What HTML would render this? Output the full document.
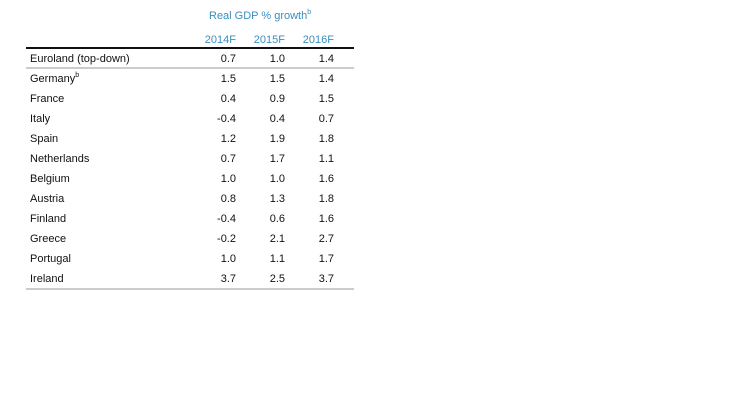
<!DOCTYPE html>
<html><head><style>
body{margin:0;width:741px;height:409px;background:#fff;position:relative;font-family:"Liberation Sans",sans-serif;font-size:11px;color:#111;overflow:hidden}
.t{position:absolute;white-space:nowrap;line-height:13px}
.b{color:#3a8fc0}
.r{text-align:right;width:40px}
.line{position:absolute;left:26px;width:328px}
sup{font-size:7px;vertical-align:5px;line-height:0}
</style></head><body>
<div class="t b" style="left:209px;top:10px">Real GDP % growth<sup>b</sup></div>
<div class="t b r" style="left:196px;top:34px">2014F</div>
<div class="t b r" style="left:245px;top:34px">2015F</div>
<div class="t b r" style="left:294px;top:34px">2016F</div>
<div class="line" style="top:47px;height:2px;background:#111"></div>
<div class="line" style="top:67px;height:2px;background:#ccc"></div>
<div class="line" style="top:288px;height:2px;background:#ccc"></div>
<div id="rows"></div>
<script>
var d=[["Euroland (top-down)","0.7","1.0","1.4"],["Germany<sup>b</sup>","1.5","1.5","1.4"],["France","0.4","0.9","1.5"],["Italy","-0.4","0.4","0.7"],["Spain","1.2","1.9","1.8"],["Netherlands","0.7","1.7","1.1"],["Belgium","1.0","1.0","1.6"],["Austria","0.8","1.3","1.8"],["Finland","-0.4","0.6","1.6"],["Greece","-0.2","2.1","2.7"],["Portugal","1.0","1.1","1.7"],["Ireland","3.7","2.5","3.7"]];
var h="";d.forEach(function(r,i){var y=53+i*20;h+='<div class="t" style="left:30px;top:'+y+'px">'+r[0]+'</div>';[196,245,294].forEach(function(x,j){h+='<div class="t r" style="left:'+x+'px;top:'+y+'px">'+r[j+1]+'</div>';});});
document.getElementById("rows").innerHTML=h;
</script>
</body></html>
